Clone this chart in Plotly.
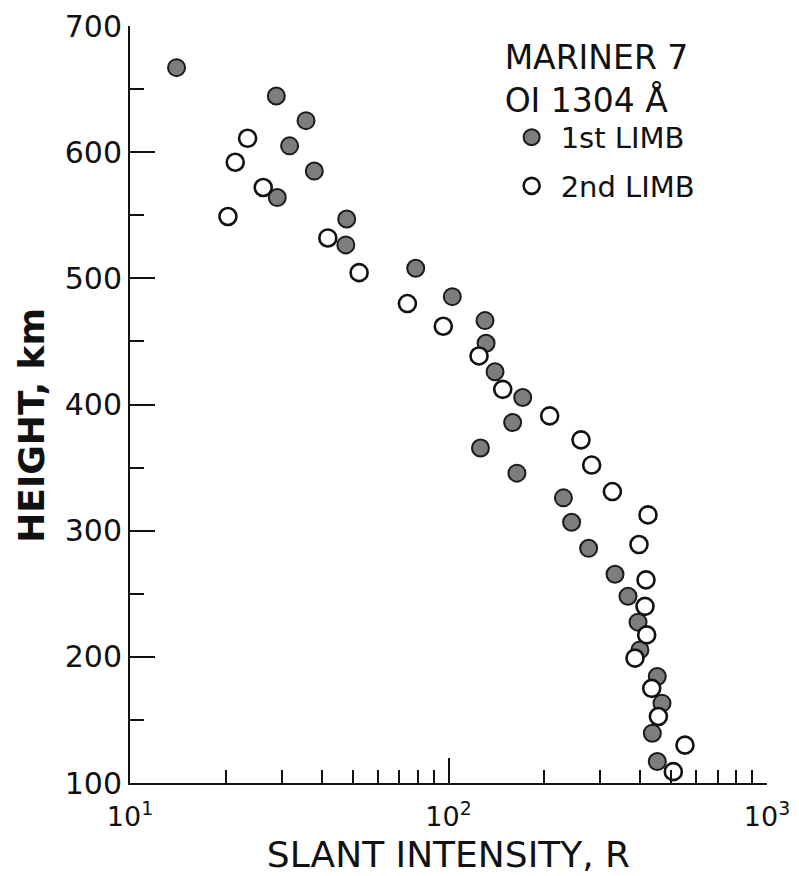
import plotly.graph_objects as go

# 1st LIMB (filled circles)
limb1_intensity = [14.0, 28.8, 35.7, 31.7, 37.9, 29.0, 47.9, 47.6, 78.9, 102.8,
                   130.2, 131.2, 140.0, 171.0, 159.0, 126.0, 164.0, 229.5, 243.5,
                   275.4, 333.3, 366.0, 393.6, 399.0, 452.4, 468.0, 436.5, 452.4]
limb1_height = [667, 644.5, 625, 605, 585, 564, 547, 526.5, 508, 485.5,
                466.5, 448.5, 426, 405.5, 385.7, 365.5, 345.6, 326, 306.7,
                286, 265.5, 248, 227.5, 205.5, 184.4, 163.3, 139.5, 117]

# 2nd LIMB (open circles)
limb2_intensity = [23.4, 21.4, 26.2, 20.3, 41.8, 52.4, 74.3, 96.3, 124.7, 148.0,
                   207.8, 260.6, 281.5, 327.0, 423.0, 396.3, 417.0, 414.0, 419.0,
                   385.0, 434.5, 456.0, 552.7, 508.0]
limb2_height = [611, 592, 572, 549, 532, 504.5, 480, 462, 438.5, 412,
                391, 372, 352, 331, 312.5, 289, 261, 240, 217.4,
                199, 175, 152.7, 130, 109]

x_tickvals = [10, 100, 1000]
x_ticktext = ["10<sup>1</sup>", "10<sup>2</sup>", "10<sup>3</sup>"]

FONT = "DejaVu Sans"
INK = "#111111"

fig = go.Figure()
fig.add_trace(go.Scatter(
    x=limb1_intensity, y=limb1_height, mode="markers", name="1st LIMB",
    legendgroup="a",
    marker=dict(symbol="circle", size=17, color="#7d7d7d",
                line=dict(color="#1a1a1a", width=2)),
))
fig.add_trace(go.Scatter(
    x=limb2_intensity, y=limb2_height, mode="markers", name="2nd LIMB",
    legendgroup="b",
    marker=dict(symbol="circle", size=17, color="white",
                line=dict(color=INK, width=2.6)),
))

fig.update_layout(
    width=791, height=868,
    paper_bgcolor="white", plot_bgcolor="white",
    margin=dict(l=122, r=32, t=18, b=93),
    font=dict(family=FONT, color=INK),
    showlegend=True,
    legend=dict(
        x=0.585, y=1.0, xanchor="left", yanchor="top",
        bgcolor="rgba(0,0,0,0)",
        font=dict(family=FONT, size=29, color=INK),
        title=dict(text="MARINER 7<br>OI 1304 Å",
                   font=dict(family=FONT, size=33, color=INK)),
        tracegroupgap=8,
        itemsizing="trace",
        itemwidth=48,
    ),
    xaxis=dict(
        type="log", range=[1, 3], automargin=False,
        showgrid=False, zeroline=False,
        showline=True, linecolor=INK, linewidth=2,
        ticks="inside", ticklen=25, tickwidth=2, tickcolor=INK,
        tickvals=x_tickvals, ticktext=x_ticktext,
        ticklabelstandoff=9,
        tickfont=dict(family=FONT, size=27, color=INK),
        minor=dict(ticks="inside", ticklen=13, tickwidth=2,
                   tickcolor=INK, dtick="D1", showgrid=False),
        title=dict(text="SLANT INTENSITY, R",
                   font=dict(family=FONT, size=36, color=INK),
                   standoff=10),
    ),
    yaxis=dict(
        range=[100, 700], automargin=False,
        showgrid=False, zeroline=False,
        showline=True, linecolor=INK, linewidth=2,
        ticks="inside", ticklen=25, tickwidth=2, tickcolor=INK,
        dtick=100, tick0=0,
        tickfont=dict(family=FONT, size=30, color=INK),
        minor=dict(ticks="inside", ticklen=14, tickwidth=2,
                   tickcolor=INK, dtick=50, showgrid=False),
    ),
    annotations=[dict(
        text="<b>HEIGHT, km</b>", textangle=-90,
        xref="paper", yref="paper", x=-0.154, y=0.473,
        xanchor="center", yanchor="middle", showarrow=False,
        font=dict(family=FONT, size=36, color=INK),
    )],
)

fig.write_html("out.html")
